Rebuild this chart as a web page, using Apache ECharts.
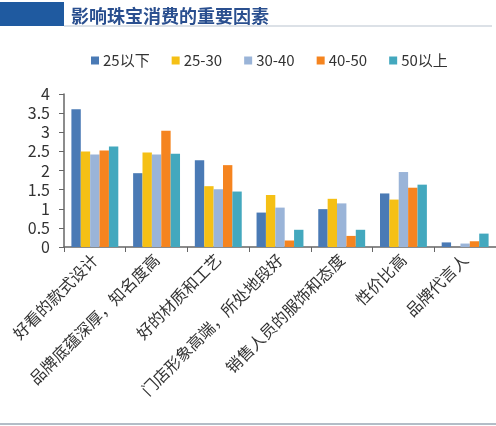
<!DOCTYPE html>
<html>
<head>
<meta charset="utf-8">
<script src="https://cdn.jsdelivr.net/npm/echarts@6/dist/echarts.min.js"></script>
<style>html,body{margin:0;padding:0;background:#fff}#c{width:496px;height:426px}</style>
</head>
<body>
<div id="c"></div>
<script>
var categories = ['好看的款式设计','品牌底蕴深厚，知名度高','好的材质和工艺','门店形象高端，所处地段好','销售人员的服饰和态度','性价比高','品牌代言人'];
var seriesNames = ['25以下','25-30','30-40','40-50','50以上'];
var s25below = [3.6, 1.93, 2.27, 0.90, 0.99, 1.40, 0.12];
var s25to30 = [2.5, 2.47, 1.59, 1.36, 1.26, 1.24, 0];
var s30to40 = [2.42, 2.42, 1.51, 1.03, 1.14, 1.96, 0.09];
var s40to50 = [2.52, 3.04, 2.14, 0.17, 0.29, 1.55, 0.15];
var s50above = [2.63, 2.44, 1.45, 0.45, 0.45, 1.63, 0.35];
var yTicks = [0, 0.5, 1, 1.5, 2, 2.5, 3, 3.5, 4];

var colors = ['#4a7ab5','#f5c015','#9ab4d8','#f5841f','#43a8be'];
var allData = [s25below, s25to30, s30to40, s40to50, s50above];
var chart = echarts.init(document.getElementById('c'), null, {renderer:'canvas'});
var font = '"Noto Sans CJK SC", "Noto Sans", sans-serif';
chart.setOption({
  animation: false,
  textStyle: {fontFamily: font},
  title: {
    text: '影响珠宝消费的重要因素',
    left: 66, top: 2,
    textStyle: {fontSize: 18, fontWeight: 'bold', color: '#2a4f8f', fontFamily: font}
  },
  graphic: [
    {type:'rect', shape:{x:0, y:2, width:64, height:24}, style:{fill:'#1f5aa0'}},
    {type:'line', shape:{x1:64, y1:26, x2:492, y2:26}, style:{stroke:'#b9c3cf', lineWidth:1}},
    {type:'line', shape:{x1:0, y1:424, x2:496, y2:424}, style:{stroke:'#9aa7b4', lineWidth:1.5}}
  ],
  color: colors,
  legend: {
    data: seriesNames,
    left: 86, top: 48,
    itemWidth: 8, itemHeight: 8, itemGap: 22,
    icon: 'rect',
    textStyle: {fontSize: 15, color: '#333', padding:[0,0,0,-1]}
  },
  grid: {left: 64, top: 94, width: 443, bottom: 179, containLabel: false},
  xAxis: {
    type: 'category',
    data: categories,
    axisLine: {lineStyle: {color: '#666', width: 1.5}},
    axisTick: {show: true, alignWithLabel: false, length: 5, lineStyle: {color: '#666'}},
    axisLabel: {rotate: 45, fontSize: 16, color: '#333', margin: 10, interval: 0}
  },
  yAxis: {
    type: 'value',
    min: 0, max: 4, interval: 0.5,
    axisLine: {show: true, lineStyle: {color: '#666', width: 1.5}},
    axisTick: {show: true, length: 5, lineStyle: {color: '#666'}},
    splitLine: {show: false},
    axisLabel: {fontSize: 16, color: '#333', margin: 14,
      formatter: function(v){ return yTicks.indexOf(v) >= 0 ? String(v) : ''; }}
  },
  series: seriesNames.map(function(n, i){
    return {name: n, type: 'bar', data: allData[i], barGap: '0%', barCategoryGap: '24%'};
  })
});
</script>
</body>
</html>
